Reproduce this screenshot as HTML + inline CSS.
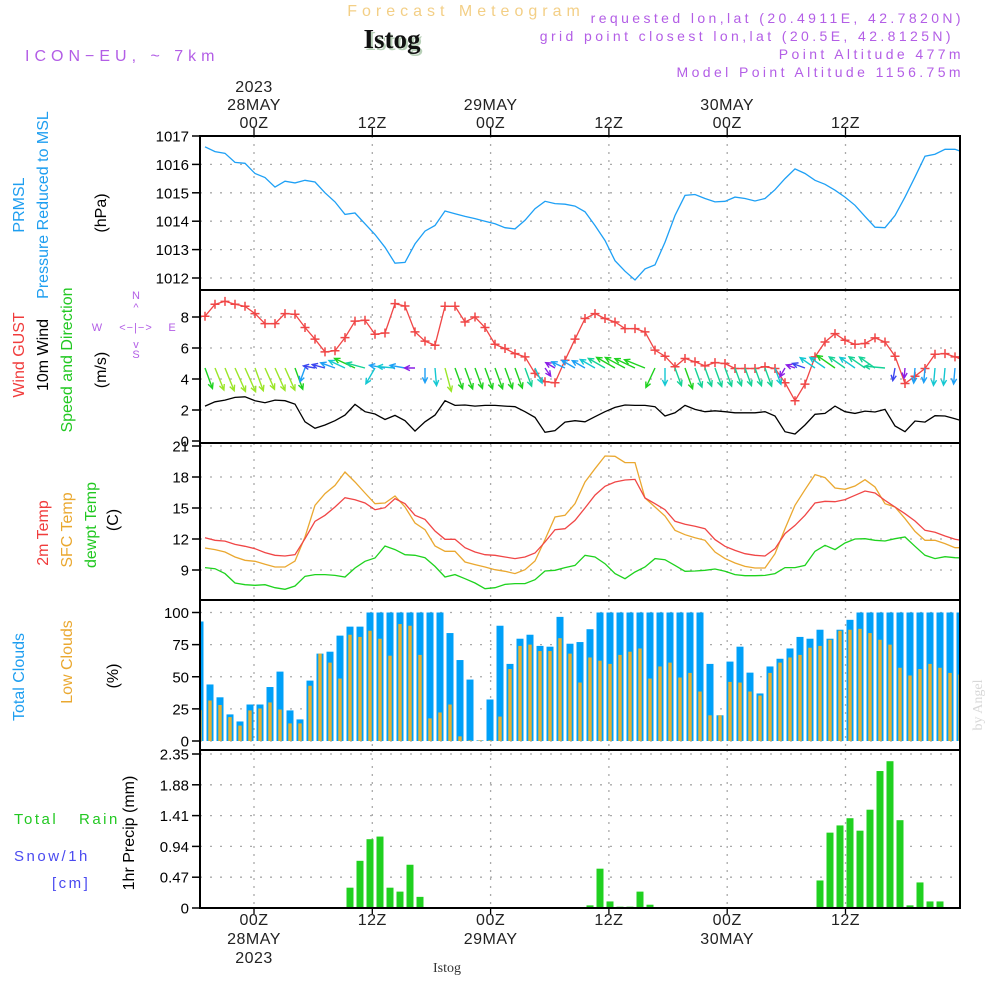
<!DOCTYPE html>
<html><head><meta charset="utf-8"><style>
html,body{margin:0;padding:0;background:#fff;}
#wrap{position:relative;width:1000px;height:1000px;overflow:hidden;font-family:"Liberation Sans",sans-serif;}
svg text{font-family:"Liberation Sans",sans-serif;}
</style></head><body>
<div id="wrap">
<svg id="chart" width="1000" height="1000" viewBox="0 0 1000 1000" xmlns="http://www.w3.org/2000/svg">
<g id="header">
<text x="466" y="16" text-anchor="middle" font-size="16" fill="#f3cf86" letter-spacing="5">Forecast Meteogram</text>
<text x="394" y="50" text-anchor="middle" font-size="27" font-weight="bold" fill="#b8d0b8" style="font-family:'Liberation Serif',serif">Istog</text>
<text x="392" y="48" text-anchor="middle" font-size="27" font-weight="bold" fill="#111" style="font-family:'Liberation Serif',serif">Istog</text>
<text x="25" y="61" font-size="16" fill="#b35ee6" letter-spacing="5">ICON−EU, ~ 7km</text>
<text x="964" y="23" text-anchor="end" font-size="14" fill="#b35ee6" letter-spacing="3.4">requested lon,lat (20.4911E, 42.7820N)</text>
<text x="954" y="41" text-anchor="end" font-size="14" fill="#b35ee6" letter-spacing="3.4">grid point closest lon,lat (20.5E, 42.8125N)</text>
<text x="964" y="59" text-anchor="end" font-size="14" fill="#b35ee6" letter-spacing="3.4">Point Altitude 477m</text>
<text x="964" y="77" text-anchor="end" font-size="14" fill="#b35ee6" letter-spacing="3.4">Model Point Altitude 1156.75m</text>
</g>
<g id="leftlabels" font-size="16">
<text transform="translate(24,205) rotate(-90)" text-anchor="middle" fill="#1e9ef0">PRMSL</text>
<text transform="translate(48,205) rotate(-90)" text-anchor="middle" fill="#1e9ef0">Pressure Reduced to MSL</text>
<text transform="translate(106,213) rotate(-90)" text-anchor="middle" fill="#000">(hPa)</text>
<text transform="translate(24,355) rotate(-90)" text-anchor="middle" fill="#f03c3c">Wind GUST</text>
<text transform="translate(48,355) rotate(-90)" text-anchor="middle" fill="#000">10m Wind</text>
<text transform="translate(72,360) rotate(-90)" text-anchor="middle" fill="#22c822">Speed and Direction</text>
<text transform="translate(106,370) rotate(-90)" text-anchor="middle" fill="#000">(m/s)</text>
<g font-size="11" fill="#b35ee6">
<text x="136" y="299" text-anchor="middle">N</text>
<text x="136" y="311" text-anchor="middle">^</text>
<text x="97" y="331" text-anchor="middle">W</text>
<text x="136" y="331" text-anchor="middle" letter-spacing="1">&lt;−|−&gt;</text>
<text x="172" y="331" text-anchor="middle">E</text>
<text x="136" y="348" text-anchor="middle">v</text>
<text x="136" y="358" text-anchor="middle">S</text>
</g>
<text transform="translate(48,533) rotate(-90)" text-anchor="middle" fill="#f03c3c">2m Temp</text>
<text transform="translate(72,530) rotate(-90)" text-anchor="middle" fill="#eaa830">SFC Temp</text>
<text transform="translate(96,525) rotate(-90)" text-anchor="middle" fill="#22c822">dewpt Temp</text>
<text transform="translate(118,520) rotate(-90)" text-anchor="middle" fill="#000">(C)</text>
<text transform="translate(24,677) rotate(-90)" text-anchor="middle" fill="#1e9ef0">Total Clouds</text>
<text transform="translate(72,662) rotate(-90)" text-anchor="middle" fill="#eaa830">Low Clouds</text>
<text transform="translate(118,676) rotate(-90)" text-anchor="middle" fill="#000">(%)</text>
<text x="14" y="824" font-size="15" fill="#22c822" letter-spacing="2.5">Total</text>
<text x="79" y="824" font-size="15" fill="#22c822" letter-spacing="2.5">Rain</text>
<text x="14" y="861" font-size="15" fill="#4a4af0" letter-spacing="2.5">Snow/1h</text>
<text x="52" y="888" font-size="15" fill="#4a4af0" letter-spacing="2.5">[cm]</text>
<text transform="translate(134,833) rotate(-90)" text-anchor="middle" fill="#000">1hr Precip (mm)</text>
</g>
<text transform="translate(982,705) rotate(-90)" text-anchor="middle" font-size="14" fill="#d8d8d8" style="font-family:'Liberation Serif',serif">by Angel</text>
<text x="447" y="972" text-anchor="middle" font-size="14" fill="#333" style="font-family:'Liberation Serif',serif">Istog</text>
<g id="plot"></g>
</svg>
</div>
<script>
// ---- data (hourly, index 0 = 27MAY 19Z) ----
const pressure = [1016.62,1016.45,1016.39,1016.07,1016.04,1015.68,1015.54,1015.2,1015.41,1015.35,1015.44,1015.38,1015.0,1014.68,1014.24,1014.29,1013.91,1013.53,1013.08,1012.52,1012.55,1013.2,1013.65,1013.85,1014.36,1014.26,1014.17,1014.09,1014.0,1013.91,1013.77,1013.73,1014.03,1014.44,1014.7,1014.62,1014.6,1014.53,1014.33,1013.85,1013.32,1012.61,1012.24,1011.93,1012.32,1012.46,1013.26,1014.2,1014.91,1014.94,1014.8,1014.68,1014.7,1014.85,1014.8,1014.71,1014.8,1015.11,1015.5,1015.84,1015.68,1015.44,1015.3,1015.09,1014.85,1014.56,1014.17,1013.79,1013.77,1014.2,1014.85,1015.56,1016.29,1016.36,1016.53,1016.53,1016.41];
const windGust = [8.05,8.82,9.01,8.82,8.69,8.22,7.57,7.57,8.22,8.18,7.32,6.57,5.75,5.82,6.67,7.73,7.79,6.89,6.97,8.86,8.71,7.04,6.44,6.18,8.69,8.69,7.68,8.0,7.32,6.24,5.97,5.64,5.43,4.36,3.82,3.76,5.21,6.57,7.9,8.22,7.9,7.68,7.25,7.25,7.04,5.86,5.47,4.79,5.32,5.11,4.85,5.06,5.0,4.68,4.68,4.68,4.79,4.68,3.76,2.6,3.67,5.43,6.39,6.93,6.5,6.24,6.29,6.65,6.39,5.47,3.71,4.18,4.68,5.6,5.64,5.43,5.17];
const windSpeed = [2.25,2.53,2.64,2.81,2.85,2.6,2.47,2.64,2.6,2.38,1.24,0.82,1.03,1.31,1.67,2.36,1.89,1.74,1.39,1.65,1.31,0.64,1.24,1.67,2.6,2.3,2.32,2.25,2.3,2.3,2.25,2.21,1.89,1.52,0.56,0.67,1.22,1.31,1.24,1.57,1.89,2.17,2.32,2.3,2.3,2.21,1.61,1.82,2.3,2.04,1.89,1.95,1.89,1.82,1.82,1.82,1.89,1.61,0.6,0.45,1.03,1.72,1.78,2.25,1.89,1.78,1.93,1.87,2.04,0.97,0.6,1.29,1.22,1.63,1.61,1.44,1.24];
const windDir = [340,338,338,336,336,340,336,336,336,340,20,100,105,110,115,115,105,30,100,95,100,90,0,355,345,340,340,340,340,340,340,340,340,335,325,120,115,120,120,120,120,120,118,115,112,25,0,340,340,340,340,340,340,340,340,340,340,340,30,110,110,125,125,125,125,125,125,125,95,10,5,5,5,5,5,5,5];
const temp2m = [12.13,11.87,11.8,11.48,11.29,11.06,10.68,10.42,10.35,10.48,12.03,13.71,14.29,15.1,16.0,15.8,15.48,14.84,15.03,15.9,15.42,14.29,13.9,12.77,11.97,11.97,11.16,10.74,10.48,10.42,10.26,10.1,10.26,10.65,11.71,12.9,13.0,13.8,15.0,16.25,17.1,17.52,17.71,17.77,15.97,15.42,14.84,13.71,13.42,13.23,13.0,11.94,11.29,10.9,10.58,10.42,10.35,11.06,12.52,13.32,14.29,15.48,15.65,15.61,15.81,16.23,16.65,16.45,15.74,15.1,14.45,13.74,12.84,12.65,12.29,11.97,11.81];
const tempSfc = [11.13,10.97,10.74,10.26,9.94,9.84,9.55,9.29,9.29,9.87,12.19,15.26,16.39,17.19,18.48,17.52,16.45,15.42,15.48,16.16,15.1,13.55,12.9,11.32,10.81,10.81,9.77,9.52,9.29,9.03,8.87,8.65,9.03,9.87,11.94,14.13,14.29,15.42,17.52,18.8,20.03,20.0,19.39,19.39,15.97,15.1,14.23,12.84,12.42,12.13,11.87,10.74,10.1,9.68,9.35,9.19,9.19,10.58,13.0,15.26,16.77,18.23,17.94,16.94,16.81,17.13,17.74,17.03,15.42,15.1,13.97,12.74,11.87,11.87,11.55,11.16,11.16];
const dewpt = [9.23,9.13,8.65,7.74,7.58,7.52,7.58,7.29,7.13,7.45,8.39,8.55,8.55,8.48,8.32,9.19,9.84,10.16,11.32,10.97,10.48,10.42,10.19,9.35,8.32,8.55,8.16,7.74,7.19,7.29,7.61,7.68,7.68,8.06,8.9,8.97,9.23,9.45,10.42,10.26,9.61,8.65,8.16,8.81,9.29,10.1,10.0,9.45,8.87,8.9,8.97,9.1,8.87,8.55,8.45,8.45,8.48,8.65,9.23,9.23,9.45,10.81,11.39,10.97,11.61,12.0,12.03,11.87,11.81,12.03,12.19,11.29,10.42,10.1,10.29,10.19,10.16];
const totalClouds = [93,44,34,20.7,15.2,28.4,28.4,42,54,23.8,16.8,47,68,69.5,82,89,89,100,100,100,100,100,100,100,100,84,63,47.8,0.5,32.3,89.7,60,79.6,82.7,74,73.4,96.6,75.7,77,87,100,100,100,100,100,100,100,100,100,100,100,60,20,61.8,73.4,53.2,37,58,64,72,81,79.6,86.6,79.6,86.6,94.3,100,100,100,100,100,100,100,100,100,100,100];
const lowClouds = [24,31.5,28,18.6,12,23.8,25.3,30,24.5,13.7,13.7,43,68,61,48.6,82.7,81,85.8,79.6,66.4,91,89.7,67,17.6,22.2,28.4,3.6,0.5,0.5,0.5,19,56,74,75,70,70,80,68,45.5,65,62.5,60,67,69.5,72,48.6,58,61,49.4,53,38.5,20,20,46,45.5,38.5,35.4,53,61,65,67,72.6,74,78.8,85.8,86.6,87.3,84,78.8,75,57,51,56,60,57,53,51.7];
const precip = [0,0,0,0,0,0,0,0,0,0,0,0,0,0,0,0.31,0.72,1.05,1.09,0.31,0.25,0.66,0.17,0,0,0,0,0,0,0,0,0,0,0,0,0,0,0,0,0.04,0.6,0.1,0.02,0.02,0.25,0.05,0,0,0,0,0,0,0,0,0,0,0,0,0,0,0,0,0.42,1.15,1.26,1.37,1.18,1.5,2.09,2.24,1.34,0.04,0.39,0.1,0.1,0];
const pressTicks = ["1012","1013","1014","1015","1016","1017"];
const windTicks = ["0","2","4","6","8"];
const tempTicks = ["9","12","15","18","21"];
const cloudTicks = ["0","25","50","75","100"];
const precipTicks = ["0","0.47","0.94","1.41","1.88","2.35"];
const timeTicks = [5,17,29,41,53,65];
const topTimeLabels = [["2023","28MAY","00Z"],["12Z"],["29MAY","00Z"],["12Z"],["30MAY","00Z"],["12Z"]];
const botTimeLabels = [["00Z","28MAY","2023"],["12Z"],["00Z","29MAY"],["12Z"],["00Z","30MAY"],["12Z"]];

// ---- scales ----
const X0=200, X1=960;
function xPt(i){return 205+i*10;}
function xBar(i){return 200+i*10;}
function xGrid(h){return 254+(h-5)*(118.3/12);}
function lin(d0,d1,r0,r1){return v=>r0+(v-d0)*(r1-r0)/(d1-d0);}
const yP=lin(1012,1017,278,136);
const yW=lin(0,8,441,317);
const yT=lin(9,21,570,446);
const yC=lin(0,100,741,612.5);
const yR=lin(0,2.35,908,754);
const panels=[{n:'pressure',t:136,b:290,s:yP,ticks:pressTicks},{n:'wind',t:290,b:443,s:yW,ticks:windTicks},{n:'temp',t:443,b:600,s:yT,ticks:tempTicks},{n:'clouds',t:600,b:750,s:yC,ticks:cloudTicks},{n:'precip',t:750,b:908,s:yR,ticks:precipTicks}];

const NS='http://www.w3.org/2000/svg';
const plot=document.getElementById('plot');
function mk(tag,attrs,parent){const e=document.createElementNS(NS,tag);for(const k in attrs)e.setAttribute(k,attrs[k]);(parent||plot).appendChild(e);return e;}

// clip for plot area
const defs=mk('defs',{});
const cp=mk('clipPath',{id:'pclip'},defs);
mk('rect',{x:X0,y:130,width:X1-X0,height:790},cp);

panels.forEach(p=>{
  const g=mk('g',{'clip-path':'url(#pclip)'});
  
  
  p.g=g;
  p.ticks.forEach(s=>{
    const y=p.s(parseFloat(s));
    if(y>p.t+2&&y<p.b-2){const l=mk('line',{x1:X0,x2:X1,y1:y,y2:y,stroke:'#aaa','stroke-width':1.3,'stroke-dasharray':'2,8'},g);
      
      }
  });
  timeTicks.forEach(h=>{
    const x=xGrid(h);
    const l=mk('line',{x1:x,x2:x,y1:p.t,y2:p.b,stroke:'#aaa','stroke-width':1.3,'stroke-dasharray':'2,6'},g);
    
    
  });
});
function polyline(arr,scale,color,name,parent){
  const pts=arr.map((v,i)=>xPt(i).toFixed(1)+','+scale(v).toFixed(1)).join(' ');
  const pl=mk('polyline',{points:pts,fill:'none',stroke:color,'stroke-width':1.3},parent);
  
  
  return pl;
}
polyline(pressure,yP,'#1ea0f5','pressure-line',panels[0].g);
polyline(windGust,yW,'#f04646','wind-gust-line',panels[1].g);
windGust.forEach((v,i)=>{
  const x=xPt(i),y=yW(v);
  const m=mk('path',{d:`M${x-4.5},${y}H${x+4.5}M${x},${y-4.5}V${y+4.5}`,stroke:'#f04646','stroke-width':1.5},panels[1].g);
  
  
});
polyline(windSpeed,yW,'#000','wind-speed-line',panels[1].g);
function windColor(s){if(s<0.8)return'#8a1ee6';if(s<1.2)return'#3c46f0';if(s<1.5)return'#1ea0f5';if(s<1.8)return'#14c8d2';if(s<2.1)return'#14d296';if(s<2.45)return'#1ed21e';return'#9be628';}
windDir.forEach((d,i)=>{
  const s=windSpeed[i];const L=6+s*7;
  const a=(d+180)*Math.PI/180;
  const dx=Math.sin(a)*L, dy=-Math.cos(a)*L;
  const x0=xPt(i),y0=368,x1=x0+dx,y1=y0+dy;
  const ang=Math.atan2(dy,dx);const hl=6;
  const h1x=x1-hl*Math.cos(ang-0.45),h1y=y1-hl*Math.sin(ang-0.45);
  const h2x=x1-hl*Math.cos(ang+0.45),h2y=y1-hl*Math.sin(ang+0.45);
  const ar=mk('path',{d:`M${x0},${y0}L${x1},${y1}M${h1x},${h1y}L${x1},${y1}L${h2x},${h2y}`,stroke:windColor(s),'stroke-width':1.4,fill:'none'},panels[1].g);
  
  
});
polyline(tempSfc,yT,'#eaa830','sfc-temp-line',panels[2].g);
polyline(temp2m,yT,'#f04646','temp-2m-line',panels[2].g);
polyline(dewpt,yT,'#1ed21e','dewpt-line',panels[2].g);
totalClouds.forEach((v,i)=>{
  const x=xBar(i);const y=yC(v);
  const b=mk('rect',{x:x-3.5,y:y,width:7,height:741-y,fill:'#00a0f8'},panels[3].g);
  
  
});
lowClouds.forEach((v,i)=>{
  const x=xBar(i);const y=yC(v);
  const b=mk('rect',{x:x-1.7,y:y,width:3.4,height:741-y,fill:'#e8b030'},panels[3].g);
  
  
});
precip.forEach((v,i)=>{
  if(v<=0)return;
  const x=xBar(i);const y=yR(v);
  const b=mk('rect',{x:x-3.5,y:y,width:7,height:908-y,fill:'#20d020'},panels[4].g);
  
  
});
// ticks, labels, frames
panels.forEach(p=>{
  p.ticks.forEach(s=>{
    const y=p.s(parseFloat(s));
    const tk=mk('line',{x1:X0-8,x2:X0,y1:y,y2:y,stroke:'#000','stroke-width':1.5});
    
    
    const t=mk('text',{x:X0-11,y:y+5.5,'text-anchor':'end','font-size':15,fill:'#000'});
    t.textContent=s;
    
    
  });
  const r=mk('rect',{x:X0,y:p.t,width:X1-X0,height:p.b-p.t,fill:'none',stroke:'#000','stroke-width':2});
  
  
});
timeTicks.forEach((h,k)=>{
  const x=xGrid(h);
  const t1=mk('line',{x1:x,x2:x,y1:128,y2:136,stroke:'#000','stroke-width':1.3});
  
  
  const t2=mk('line',{x1:x,x2:x,y1:908,y2:914,stroke:'#000','stroke-width':1.3});
  
  
  const top=topTimeLabels[k];
  top.forEach((s,j)=>{
    const y=128-(top.length-1-j)*18;
    const t=mk('text',{x:x,y:y,'text-anchor':'middle','font-size':16,fill:'#222','letter-spacing':0.5});
    t.textContent=s;
    
    
  });
  botTimeLabels[k].forEach((s,j)=>{
    const t=mk('text',{x:x,y:925+j*19,'text-anchor':'middle','font-size':16,fill:'#222','letter-spacing':0.5});
    t.textContent=s;
    
    
  });
});
</script>
</body></html>
